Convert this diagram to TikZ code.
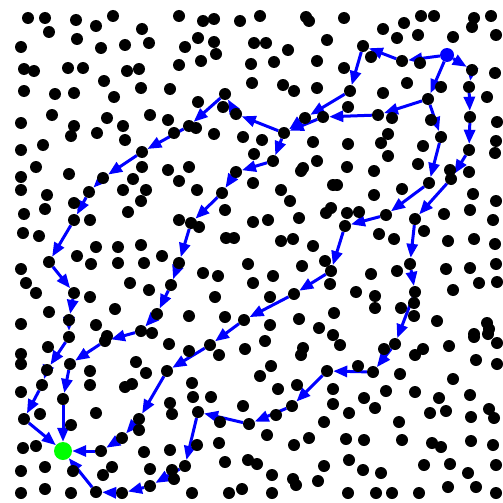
\documentclass[tikz,border=0pt]{standalone}
\usetikzlibrary{arrows.meta}

\pgfdeclarelayer{paper}
\pgfdeclarelayer{edges}
\pgfsetlayers{paper,edges,main}

\begin{document}
\begin{tikzpicture}[
  x=1pt, y=-1pt,
  dot/.style={circle, fill=black, inner sep=0pt, minimum size=12pt},
  start/.style={circle, fill=blue, inner sep=0pt, minimum size=14pt},
  goal/.style={circle, fill=green, inner sep=0pt, minimum size=18pt},
  route/.style={-{Triangle[length=14pt, width=11pt]}, blue, line width=3pt},
]

% 画布
\begin{pgfonlayer}{paper}
\path[use as bounding box, fill=white] (0,0) rectangle (502,503);
\end{pgfonlayer}

% 随机采样点
\foreach \x/\y [count=\i] in {
  28/18, 45/18, 76/20, 113/16, 96/26, 49/32, 142/29, 77/39, 21/47, 101/48, 125/45, 149/43,
  24/69, 34/71, 68/68, 83/68, 104/81, 127/71, 139/69, 24/91, 55/94, 74/93, 114/97, 141/88,
  21/123, 52/115, 74/126, 71/136, 97/133, 107/118, 123/126, 125/140, 150/115, 21/150, 43/145,
  36/167, 142/167,
  179/16, 203/21, 214/19, 240/21, 260/16, 306/17, 309/21, 198/38, 185/47, 214/42, 216/54,
  254/43, 266/43, 288/50, 327/40, 179/65, 201/61, 251/64, 274/62, 317/61, 170/89, 252/83,
  283/85, 294/91, 317/88, 198/102, 223/107, 168/120, 196/128, 174/133, 214/134, 243/137,
  262/140, 313/142, 254/154, 189/167, 303/168, 317/161, 168/170,
  344/18, 383/29, 404/23, 421/16, 434/16, 474/18, 472/27, 491/16, 397/38, 418/35, 453/37,
  496/35, 371/57, 344/68, 407/83, 383/93, 487/97, 348/107, 392/118, 431/120, 497/122,
  388/134, 381/143, 348/144, 423/146, 496/141, 495/153, 388/156, 450/170, 347/167, 374/171,
  418/164, 420/63, 441/87, 495/73,
  69/174, 21/177, 21/190, 133/179, 146/190, 123/190, 47/195, 141/201, 74/203, 45/209,
  24/214, 128/212, 90/220, 23/233, 39/236, 96/247, 118/247, 141/245, 162/256, 77/256,
  91/264, 118/263, 144/263, 21/269, 26/283, 36/293, 130/283, 149/290, 90/297, 115/309,
  49/312, 21/324, 96/325, 152/333, 107/336,
  301/171, 179/181, 253/183, 197/190, 281/190, 290/201, 333/185, 225/210, 179/220, 199/227,
  253/222, 268/220, 299/218, 326/213, 331/208, 226/238, 234/238, 281/241, 293/239, 313/246,
  248/264, 302/266, 325/261, 203/273, 218/276, 273/276, 253/283, 330/284, 215/297, 270/297,
  189/316, 225/317, 299/319, 270/325, 319/328, 334/313, 333/335,
  374/195, 337/185, 402/189, 469/172, 473/194, 496/201, 347/213, 359/212, 444/214, 470/210,
  493/220, 379/234, 394/239, 424/231, 448/241, 474/239, 495/244, 371/274, 397/271, 446/269,
  470/268, 496/264, 479/283, 497/282, 356/292, 375/296, 375/308, 453/290, 401/308, 414/303,
  414/316, 437/321, 487/323, 489/329, 474/334,
  48/347, 21/354, 21/364, 90/371, 136/362, 146/373, 90/385, 21/392, 125/387, 132/384,
  40/414, 96/413, 71/425, 139/430, 23/448, 36/446, 144/452, 21/471, 45/467, 73/471,
  112/467, 103/475, 150/469, 21/493, 45/489, 71/493,
  169/344, 189/351, 219/355, 245/349, 265/341, 303/348, 301/355, 271/366, 260/376, 192/383,
  278/389, 297/385, 333/389, 193/397, 211/397, 170/403, 172/414, 243/406, 220/422, 276/415,
  324/422, 333/404, 267/435, 309/438, 294/445, 197/445, 219/443, 170/450, 225/462, 248/460,
  257/464, 172/470, 174/479, 272/475, 293/479, 296/485, 324/466, 318/481, 192/493, 229/493,
  242/489, 272/493,
  340/345, 384/349, 415/355, 423/349, 449/346, 474/337, 488/334, 497/343, 476/360, 497/364,
  358/366, 400/374, 453/379, 386/391, 415/392, 470/395, 364/398, 375/408, 349/413, 439/398,
  430/413, 446/411, 489/409, 494/418, 471/417, 399/422, 346/439, 364/440, 402/440, 432/443,
  441/447, 471/441, 493/445, 349/460, 363/470, 381/473, 424/465, 450/464, 468/473, 496/465,
  348/493, 376/493, 392/493, 419/493, 448/487, 476/487, 496/493}
  \node[dot] (p\i) at (\x,\y) {};

% 路径上的点
\foreach \n/\x/\y in {
  a1/402/61, a2/363/46, a3/350/91, a4/305/118, a5/284/133, a6/236/114, a7/225/94,
  a8/189/126, a9/142/152, a10/103/178, a11/89/192, a12/74/220, a13/49/262, a14/74/293,
  a15/69/320, a16/69/337, a17/47/370, a18/42/385, a19/24/419,
  b1/428/99, b2/378/115, b3/323/117, b4/273/161, b5/236/172, b6/222/193, b7/191/223,
  b8/179/263, b9/171/285, b10/157/314, b11/141/331, b12/105/341, b13/70/364, b14/63/399,
  c1/441/137, c2/429/183, c3/386/215, c4/345/226, c5/331/271, c6/294/294, c7/244/320,
  c8/210/345, c9/167/371, c10/139/419, c11/122/438, c12/101/451,
  d1/472/70, d2/469/87, d3/470/117, d4/469/150, d5/451/179, d6/415/219, d7/410/264,
  d8/415/292, d9/395/344, d10/373/372, d11/327/371, d12/292/406, d13/249/424,
  d14/198/412, d15/185/466, d16/150/486, d17/122/493, d18/96/492}
  \node[dot] (\n) at (\x,\y) {};

% 起点与终点
\node[start] (S) at (447,55) {};
\node[goal] (G) at (63,451) {};

% 四条路径 (画在点的下面)
\begin{pgfonlayer}{edges}
\foreach \u/\v in {S/a1, a1/a2, a2/a3, a3/a4, a4/a5, a5/a6, a6/a7, a7/a8, a8/a9, a9/a10,
  a10/a11, a11/a12, a12/a13, a13/a14, a14/a15, a15/a16, a16/a17, a17/a18, a18/a19, a19/G}
  \draw[route] (\u) -- (\v);
\foreach \u/\v in {S/b1, b1/b2, b2/b3, b3/a5, a5/b4, b4/b5, b5/b6, b6/b7, b7/b8, b8/b9,
  b9/b10, b10/b11, b11/b12, b12/b13, b13/b14, b14/G}
  \draw[route] (\u) -- (\v);
\foreach \u/\v in {b1/c1, c1/c2, c2/c3, c3/c4, c4/c5, c5/c6, c6/c7, c7/c8, c8/c9, c9/c10,
  c10/c11, c11/c12, c12/G}
  \draw[route] (\u) -- (\v);
\foreach \u/\v in {S/d1, d1/d2, d2/d3, d3/d4, d4/d5, d5/d6, d6/d7, d7/d8, d8/d9, d9/d10,
  d10/d11, d11/d12, d12/d13, d13/d14, d14/d15, d15/d16, d16/d17, d17/d18, d18/G}
  \draw[route] (\u) -- (\v);
\end{pgfonlayer}

\end{tikzpicture}
\end{document}
